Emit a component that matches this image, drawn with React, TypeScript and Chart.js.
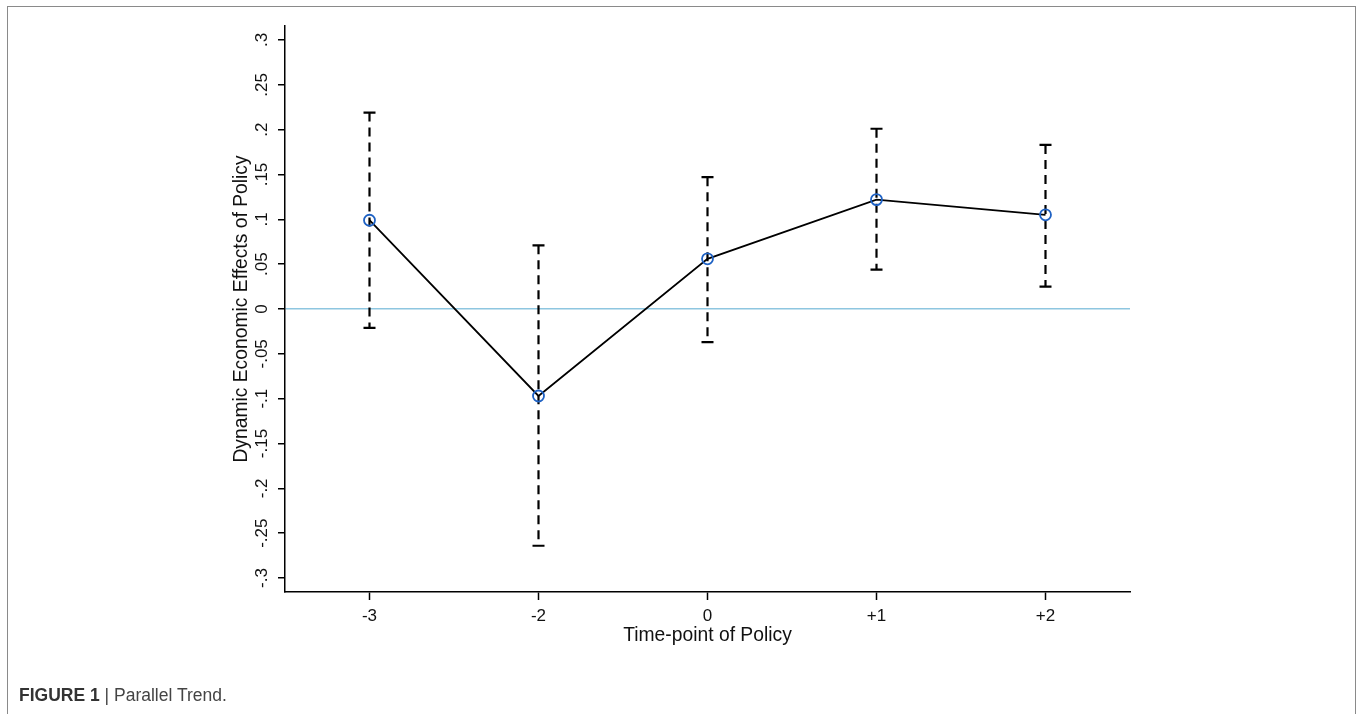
import React, { useEffect, useRef } from "react";
import { Chart, registerables } from "chart.js";

Chart.register(...registerables);

// ---- data ----
const timeLabels = ["-3", "-2", "0", "+1", "+2"];
const effects = [0.099, -0.097, 0.056, 0.122, 0.105];
const ciUpper = [0.219, 0.071, 0.147, 0.201, 0.183];
const ciLower = [-0.021, -0.264, -0.037, 0.044, 0.025];
const yTickValues = [-0.3, -0.25, -0.2, -0.15, -0.1, -0.05, 0, 0.05, 0.1, 0.15, 0.2, 0.25, 0.3];
const yTickLabels = ["-.3", "-.25", "-.2", "-.15", "-.1", "-.05", "0", ".05", ".1", ".15", ".2", ".25", ".3"];
const yAxisMin = -0.3156;
const yAxisMax = 0.3156;

const FONT = "'Liberation Sans', Arial, Helvetica, sans-serif";

const errorBarPlugin = {
  id: "errorBars",
  beforeDatasetsDraw(chart: any) {
    const { ctx } = chart;
    const x = chart.scales.x;
    const y = chart.scales.y;
    ctx.save();
    ctx.strokeStyle = "#000";
    ctx.lineWidth = 2.2;
    for (let i = 0; i < timeLabels.length; i++) {
      const px = x.getPixelForValue(i);
      const yHi = y.getPixelForValue(ciUpper[i]);
      const yLo = y.getPixelForValue(ciLower[i]);
      ctx.setLineDash([9, 6]);
      ctx.beginPath();
      ctx.moveTo(px, yHi);
      ctx.lineTo(px, yLo);
      ctx.stroke();
      ctx.setLineDash([]);
      ctx.beginPath();
      ctx.moveTo(px - 6, yHi);
      ctx.lineTo(px + 6, yHi);
      ctx.moveTo(px - 6, yLo);
      ctx.lineTo(px + 6, yLo);
      ctx.stroke();
    }
    ctx.restore();
  },
};

export default function App() {
  const canvasRef = useRef<HTMLCanvasElement | null>(null);

  useEffect(() => {
    if (!canvasRef.current) return;
    const chart = new Chart(canvasRef.current, {
      type: "line",
      data: {
        labels: timeLabels,
        datasets: [
          {
            data: effects,
            borderColor: "#000",
            borderWidth: 1.8,
            pointStyle: "circle",
            pointRadius: 5.5,
            pointBorderWidth: 1.8,
            pointBorderColor: "#1f62c4",
            pointBackgroundColor: "rgba(0,0,0,0)",
            tension: 0,
            fill: false,
          },
        ],
      },
      options: {
        responsive: false,
        animation: false,
        events: [],
        layout: { padding: { left: 230, top: 26, right: 227, bottom: 67 } },
        plugins: {
          legend: { display: false },
          tooltip: { enabled: false },
        },
        scales: {
          x: {
            type: "category",
            offset: true,
            afterFit: (s: any) => {
              s.height = 55;
            },
            grid: {
              display: true,
              drawOnChartArea: false,
              drawTicks: true,
              tickLength: 8,
              tickColor: "#000",
              tickWidth: 1.5,
              offset: false,
            },
            border: { display: true, color: "#000", width: 1.5 },
            ticks: {
              color: "#111",
              font: { family: FONT, size: 17 },
              padding: 6,
              maxRotation: 0,
              minRotation: 0,
              autoSkip: false,
            },
            title: {
              display: true,
              text: "Time-point of Policy",
              color: "#111",
              font: { family: FONT, size: 19.3 },
              padding: 0,
            },
          },
          y: {
            type: "linear",
            min: yAxisMin,
            max: yAxisMax,
            afterFit: (s: any) => {
              s.width = 55;
            },
            afterBuildTicks: (s: any) => {
              s.ticks = yTickValues.map((v) => ({ value: v }));
            },
            grid: {
              display: true,
              drawOnChartArea: true,
              drawTicks: true,
              tickLength: 7,
              tickColor: "#000",
              tickWidth: 1.5,
              lineWidth: 1.5,
              color: (c: any) => (c.tick && Math.abs(c.tick.value) < 1e-9 ? "#8ec6e0" : "rgba(0,0,0,0)"),
            },
            border: { display: true, color: "#000", width: 1.5 },
            ticks: {
              color: "#111",
              font: { family: FONT, size: 17 },
              padding: 1,
              minRotation: 90,
              maxRotation: 90,
              crossAlign: "center",
              autoSkip: false,
              callback: (_v: any, i: number) => yTickLabels[i],
            },
            title: {
              display: true,
              text: "Dynamic Economic Effects of Policy",
              color: "#111",
              font: { family: FONT, size: 19.3 },
              padding: 0,
            },
          },
        },
      },
      plugins: [errorBarPlugin],
    } as any);
    return () => chart.destroy();
  }, []);

  return (
    <div
      style={{
        position: "absolute",
        left: 0,
        top: 0,
        width: 1357,
        height: 714,
        overflow: "hidden",
        background: "#fff",
      }}
    >
      <div
        style={{
          position: "absolute",
          left: 7,
          top: 6,
          width: 1347,
          height: 740,
          border: "1px solid #8a8a8a",
        }}
      />
      <canvas
        ref={canvasRef}
        width={1357}
        height={714}
        style={{ position: "absolute", left: 0, top: 0, width: 1357, height: 714 }}
      />
      <div
        style={{
          position: "absolute",
          left: 19,
          top: 684,
          fontFamily: FONT,
          fontSize: 17.5,
          lineHeight: "22px",
          color: "#333",
          whiteSpace: "nowrap",
        }}
      >
        <span style={{ fontWeight: "bold" }}>FIGURE 1</span>
        <span style={{ color: "#444" }}> | Parallel Trend.</span>
      </div>
    </div>
  );
}
